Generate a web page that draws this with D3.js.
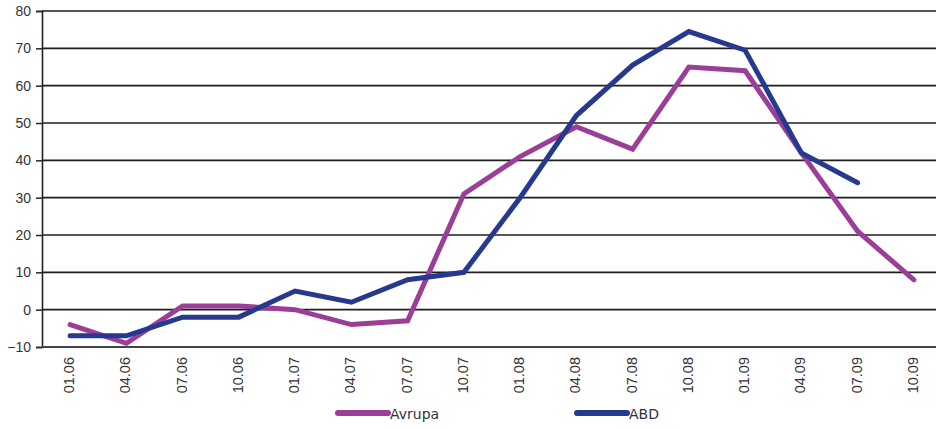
<!DOCTYPE html>
<html><head><meta charset="utf-8">
<script src="https://cdn.jsdelivr.net/npm/d3@7"></script>
<style>body{margin:0;background:#fff;}svg{display:block;font-family:"DejaVu Sans",sans-serif;}</style>
</head><body><svg id="c" width="936" height="429"></svg>
<script>
const categories = ["01.06","04.06","07.06","10.06","01.07","04.07","07.07","10.07","01.08","04.08","07.08","10.08","01.09","04.09","07.09","10.09"];
const avrupa = [-4,-9,1,1,0,-4,-3,31,41,49,43,65,64,42,21,8];
const abd = [-7,-7,-2,-2,5,2,8,10,30,52,65.5,74.5,69.5,42,34,null];
const yTicks = [-10,0,10,20,30,40,50,60,70,80];
const seriesNames = ["Avrupa","ABD"];
const colors = ["#9a3e97","#26398e"];

const svg = d3.select("#c");
const L = 42, R = 942, T = 11, B = 347;
const x = d3.scaleBand().domain(categories).range([L, R]);
const y = d3.scaleLinear().domain([-10, 80]).range([B, T]);

// gridlines
svg.append("g").selectAll("line").data(yTicks.filter(d => d > -10)).join("line")
  .attr("x1", L).attr("x2", 936).attr("y1", d => y(d)).attr("y2", d => y(d))
  .attr("stroke", "#1e1e1e").attr("stroke-width", 1.6);

// y axis
const ya = svg.append("g").attr("transform", `translate(${L},0)`)
  .call(d3.axisLeft(y).tickValues(yTicks).tickSize(6).tickPadding(5).tickFormat(d3.format("d")));
ya.select(".domain").attr("stroke", "#222").attr("stroke-width", 1.6);
ya.selectAll(".tick line").attr("stroke", "#222").attr("stroke-width", 1.5);
ya.selectAll("text").attr("fill", "#333").style("font-size", "14px");

// x axis
const xa = svg.append("g").attr("transform", `translate(0,${B})`)
  .call(d3.axisBottom(x).tickSize(0).tickPadding(0));
xa.select(".domain").attr("stroke", "#444").attr("stroke-width", 2).attr("d", `M${L},0H936`);
xa.selectAll("text").attr("fill", "#333").style("font-size", "14.5px")
  .attr("text-anchor", "end").attr("transform", "translate(-1,10) rotate(-90)").attr("dy", "0.35em").attr("y", 0).attr("x", 0);

// lines
const line = d3.line().defined(d => d != null)
  .x((d, i) => x(categories[i]) + x.bandwidth() / 2).y(d => y(d));
[avrupa, abd].forEach((s, k) => {
  svg.append("path").datum(s).attr("fill", "none").attr("stroke", colors[k])
    .attr("stroke-width", 5).attr("stroke-linejoin", "miter").attr("stroke-linecap", "round")
    .attr("d", line);
});

// legend
const legX = [338, 577];
seriesNames.forEach((n, k) => {
  svg.append("line").attr("x1", legX[k]).attr("x2", legX[k] + 50).attr("y1", 413).attr("y2", 413)
    .attr("stroke", colors[k]).attr("stroke-width", 6).attr("stroke-linecap", "round");
  svg.append("text").attr("x", legX[k] + 52).attr("y", 419).text(n)
    .attr("fill", "#333").style("font-size", "14px");
});
</script></body></html>
